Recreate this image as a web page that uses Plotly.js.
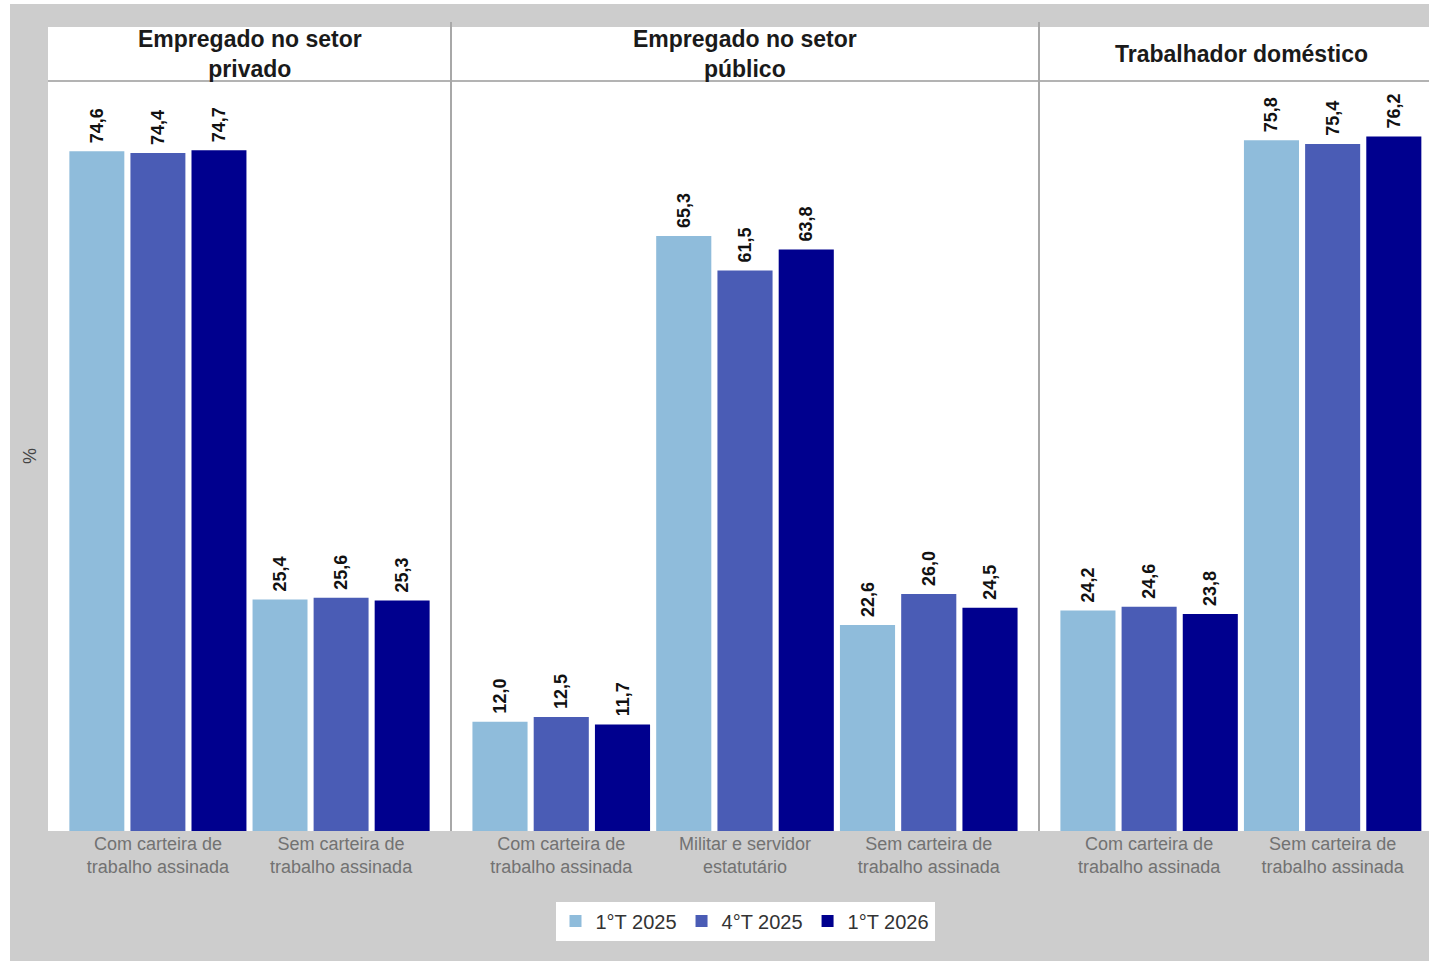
<!DOCTYPE html>
<html>
<head>
<meta charset="utf-8">
<script src="https://cdn.plot.ly/plotly-3.0.1.min.js"></script>
<style>
  html, body { margin: 0; padding: 0; background: #ffffff; overflow: hidden; }
  #chart { width: 1429px; height: 961px; }
</style>
</head>
<body>
<div id="chart"></div>
<script>
// Series (quarters)
const seriesNames = ['1°T 2025', '4°T 2025', '1°T 2026'];

// Panel titles
const panelTitles = ['Empregado no setor<br>privado', 'Empregado no setor<br>público', 'Trabalhador doméstico'];

// Categories per panel
const catsPrivado = ['Com carteira de<br>trabalho assinada', 'Sem carteira de<br>trabalho assinada'];
const catsPublico = ['Com carteira de<br>trabalho assinada', 'Militar e servidor<br>estatutário', 'Sem carteira de<br>trabalho assinada'];
const catsDomestico = ['Com carteira de<br>trabalho assinada', 'Sem carteira de<br>trabalho assinada'];

// Values (%) per series, per panel
const privado1T2025 = [74.6, 25.4];
const privado4T2025 = [74.4, 25.6];
const privado1T2026 = [74.7, 25.3];

const publico1T2025 = [12.0, 65.3, 22.6];
const publico4T2025 = [12.5, 61.5, 26.0];
const publico1T2026 = [11.7, 63.8, 24.5];

const domestico1T2025 = [24.2, 75.8];
const domestico4T2025 = [24.6, 75.4];
const domestico1T2026 = [23.8, 76.2];

const panels = [
  { cats: catsPrivado,   vals: [privado1T2025, privado4T2025, privado1T2026],       xa: 'x'  },
  { cats: catsPublico,   vals: [publico1T2025, publico4T2025, publico1T2026],       xa: 'x2' },
  { cats: catsDomestico, vals: [domestico1T2025, domestico4T2025, domestico1T2026], xa: 'x3' }
];

const barColors = ['#8fbcdb', '#4a5cb5', '#00008e'];
const W = 1429, H = 961;
const px = v => v / W;          // horizontal pixel -> paper
const py = v => (H - v) / H;    // vertical pixel -> paper

const FONT = 'Liberation Sans, Arial, Helvetica, sans-serif';

const traces = [];
panels.forEach((p, pi) => {
  seriesNames.forEach((name, si) => {
    traces.push({
      type: 'bar',
      name: name,
      x: p.cats,
      y: p.vals[si],
      xaxis: p.xa,
      yaxis: 'y',
      marker: { color: barColors[si], line: { width: 0 } },
      // leading no-break space lifts the rotated label a little off the bar
      texttemplate: '\u00a0%{y:.1f}',
      textposition: 'outside',
      textangle: -90,
      textfont: { family: FONT, size: 18, color: '#111111', weight: 'bold' },
      cliponaxis: false,
      legendgroup: name,
      showlegend: pi === 0,
      hoverinfo: 'skip'
    });
  });
});

const xCommon = {
  type: 'category',
  showgrid: false, zeroline: false, showline: false,
  ticks: '', fixedrange: true,
  tickfont: { family: FONT, size: 18, color: '#727272' },
  anchor: 'y'
};

const panelCenters = [249.5, 745, 1241];

const shapes = [
  // white page margins at the left and top
  { type: 'rect', xref: 'paper', yref: 'paper', x0: 0, x1: px(10), y0: 0, y1: 1,
    fillcolor: '#ffffff', line: { width: 0 }, layer: 'below' },
  { type: 'rect', xref: 'paper', yref: 'paper', x0: 0, x1: 1, y0: py(4), y1: 1,
    fillcolor: '#ffffff', line: { width: 0 }, layer: 'below' },
  // facet strip background
  { type: 'rect', xref: 'paper', yref: 'paper', x0: px(48), x1: 1, y0: py(81), y1: py(27),
    fillcolor: '#ffffff', line: { width: 0 }, layer: 'below' },
  // strip bottom rule
  { type: 'line', xref: 'paper', yref: 'paper', x0: px(48), x1: 1, y0: py(81), y1: py(81),
    line: { color: '#9a9a9a', width: 1.5 } },
  // panel separators
  { type: 'line', xref: 'paper', yref: 'paper', x0: px(451), x1: px(451), y0: py(831), y1: py(22),
    line: { color: '#a8a8a8', width: 2 } },
  { type: 'line', xref: 'paper', yref: 'paper', x0: px(1039), x1: px(1039), y0: py(831), y1: py(22),
    line: { color: '#a8a8a8', width: 2 } }
];

// Strip titles centred in each facet strip
const annotations = panelTitles.map((t, i) => ({
  text: '<b>' + t + '</b>',
  xref: 'paper', yref: 'paper',
  x: px(panelCenters[i]), y: py(54),
  xanchor: 'center', yanchor: 'middle',
  showarrow: false,
  font: { family: FONT, size: 23, color: '#1a1a1a' }
}));
annotations.push({
  text: '%',
  xref: 'paper', yref: 'paper',
  x: px(30), y: py(456),
  xanchor: 'center', yanchor: 'middle',
  textangle: -90,
  showarrow: false,
  font: { family: FONT, size: 18, color: '#444444' }
});

const layout = {
  width: W, height: H,
  margin: { l: 0, r: 0, t: 0, b: 0, pad: 0 },
  paper_bgcolor: '#cdcdcd',
  plot_bgcolor: '#ffffff',
  separators: ',.',
  barmode: 'group',
  bargap: 0.0,
  bargroupgap: 0.1,
  showlegend: true,
  legend: {
    orientation: 'h',
    x: px(745), y: py(921),
    xanchor: 'center', yanchor: 'middle',
    bgcolor: '#ffffff',
    font: { family: FONT, size: 20, color: '#333333' },
    itemwidth: 30,
    traceorder: 'normal'
  },
  xaxis: Object.assign({}, xCommon, { domain: [px(48), px(451)], range: [-0.6, 1.6] }),
  xaxis2: Object.assign({}, xCommon, { domain: [px(451), px(1039)], range: [-0.6, 2.6] }),
  xaxis3: Object.assign({}, xCommon, { domain: [px(1039), 1], range: [-0.6, 1.525] }),
  yaxis: {
    domain: [py(831), py(81)],
    range: [0, 82.3],
    showgrid: false, zeroline: false, showline: false,
    showticklabels: false, ticks: '', fixedrange: true,
    anchor: 'x'
  },
  shapes: shapes,
  annotations: annotations
};

Plotly.newPlot('chart', traces, layout, { displayModeBar: false, staticPlot: true });
</script>
</body>
</html>
